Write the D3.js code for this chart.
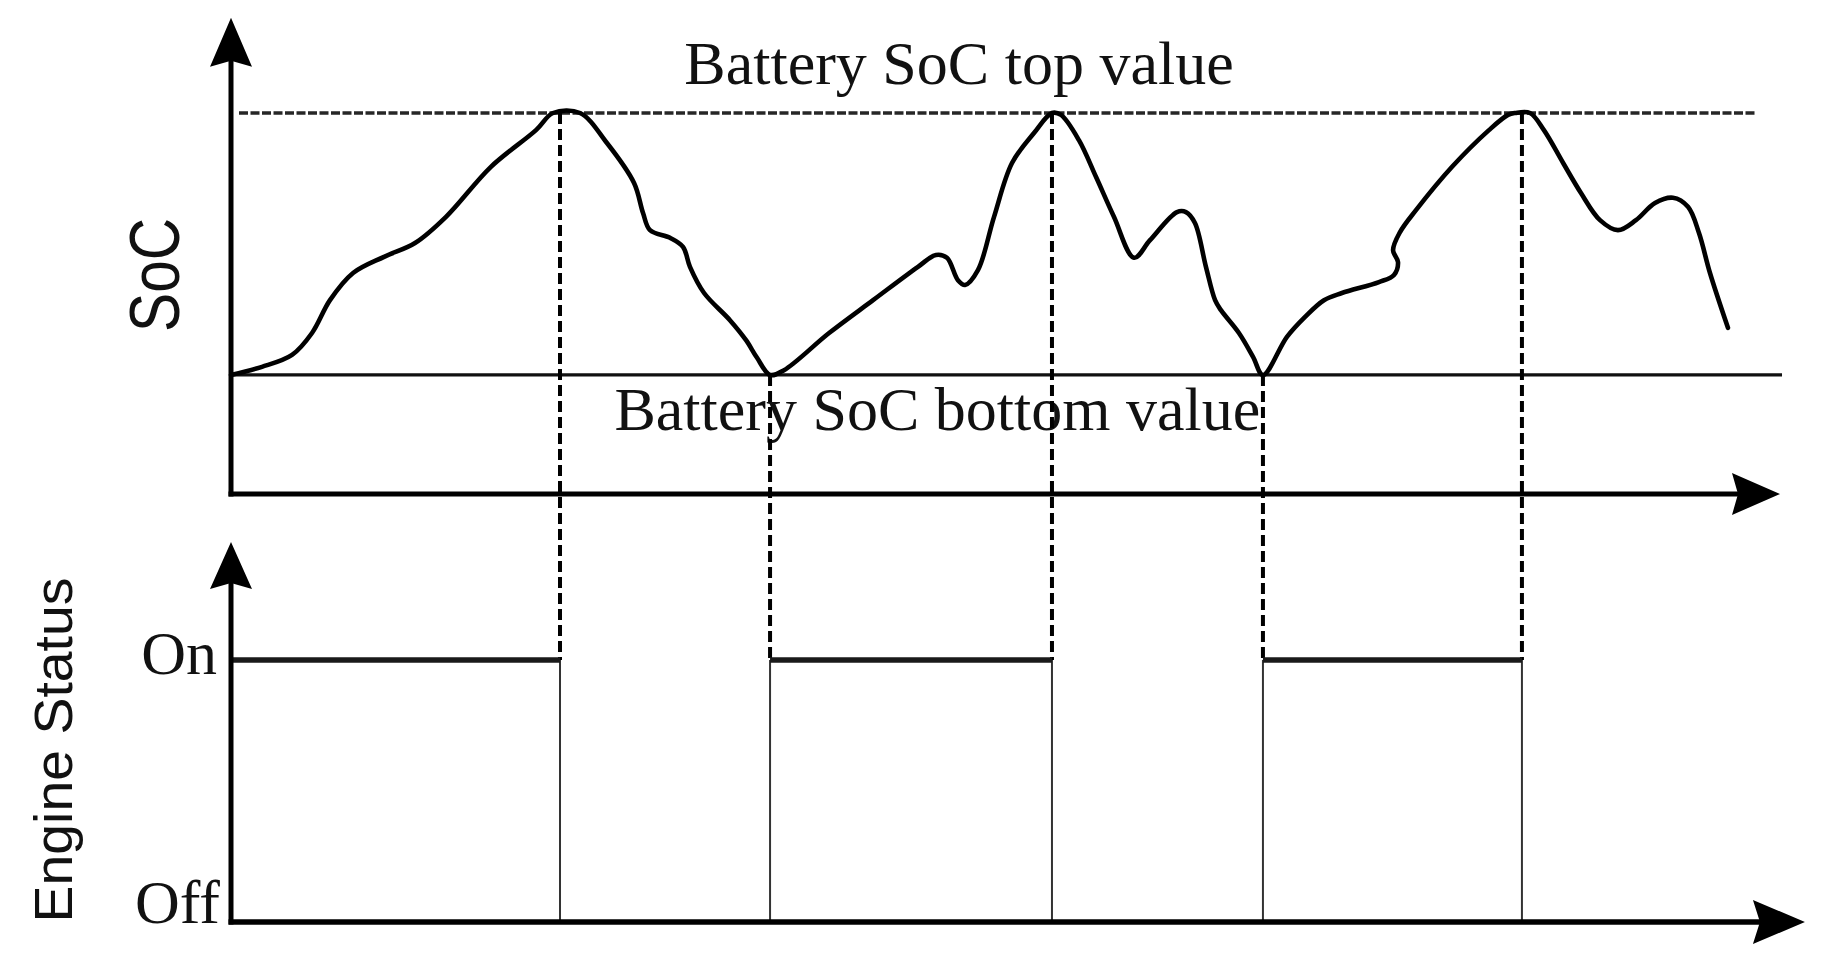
<!DOCTYPE html>
<html>
<head>
<meta charset="utf-8">
<script src="https://cdn.jsdelivr.net/npm/d3@7"></script>
<style>
  html, body { margin: 0; padding: 0; background: #fff; }
  svg { display: block; }
</style>
</head>
<body>
<svg id="chart" width="1827" height="968"></svg>
<script>
// ---------------- DATA ----------------
// SoC trace (time in arbitrary units, SoC in %)
const socTime = [0, 20.0, 39.4, 52.3, 63.9, 78.8, 98.8, 118.8, 138.8, 167.8, 196.9, 207.9, 225.3,
  242.7, 260.2, 266.0, 270.5, 283.4, 291.8, 296.3, 305.4, 322.1, 332.5, 339.6, 348.0,
  357.0, 386.1, 414.5, 443.5, 455.1, 462.2, 469.3, 473.9, 482.2, 492.6, 504.2, 518.4, 530.0,
  535.8, 547.4, 558.4, 570.0, 583.0, 593.3, 610.7, 616.5, 622.3, 629.4, 635.3, 639.1, 650.7, 659.8, 666.2,
  681.7, 693.4, 705.6, 717.2, 741.1, 750.8, 753.4, 750.2, 754.7, 765.0, 788.3, 812.1, 824.4, 829.0, 838.6,
  847.6, 860.0, 871.5, 883.8, 895.4, 907.0, 919.3, 930.9, 940.6, 947.7, 954.8, 966.4];
const socValue = [25.0, 26.7, 29.2, 33.8, 40.7, 46.4, 49.8, 52.7, 58.2, 68.7, 76.4, 80.0, 80.0,
  73.7, 65.3, 59.0, 55.4, 53.8, 51.9, 47.7, 42.2, 36.5, 32.3, 28.6, 25.0,
  26.0, 33.8, 40.7, 47.7, 50.2, 49.6, 44.9, 43.9, 47.0, 58.2, 69.5, 75.8, 80.0,
  79.6, 74.3, 66.6, 58.2, 49.6, 53.3, 59.2, 59.2, 56.9, 47.7, 40.7, 38.6, 33.8, 28.8, 25.0,
  33.0, 37.2, 40.7, 42.2, 44.5, 46.0, 48.7, 51.2, 55.0, 59.6, 68.7, 76.4, 79.6, 80.0, 80.0,
  76.4, 69.5, 63.2, 57.5, 55.4, 57.5, 61.1, 62.2, 60.3, 54.8, 46.4, 34.9];

const socTop = 80;      // Battery SoC top value
const socBottom = 25;   // Battery SoC bottom value

// Engine status change times and state from that time on (1 = On, 0 = Off)
const statusTimes  = [0, 212.4, 348.0, 530.0, 666.2, 833.4];
const statusValues = [1, 0, 1, 0, 1, 0];
// SoC level at each switching instant (top -> engine off, bottom -> engine on)
const switchSoc    = [80, 25, 80, 25, 80];

const statusLabels = ["Off", "On"];
const topLabel = "Battery SoC top value";
const bottomLabel = "Battery SoC bottom value";
const socAxisTitle = "SoC";
const statusAxisTitle = "Engine Status";

// ---------------- SCALES ----------------
const svg = d3.select("#chart");
const x = d3.scaleLinear().domain([0, 1000]).range([231, 1780]);
const ySoc = d3.scaleLinear().domain([0, 100]).range([494, 17.75]);
const yStat = d3.scaleLinear().domain([0, 1]).range([922, 660]);
const bottomAxisEnd = 1016.1;   // time where lower axis arrow ends
const statAxisTop = 1.45;       // status value where lower y-arrow ends

const serif = "'Liberation Serif','Times New Roman',Times,serif";
const sans = "'Liberation Sans',Arial,Helvetica,sans-serif";

// arrow helpers
function arrowUp(cx, tipY, len, halfW, notch) {
  return `M${cx},${tipY} L${cx + halfW},${tipY + len} L${cx},${tipY + len - notch} L${cx - halfW},${tipY + len} Z`;
}
function arrowRight(tipX, cy, len, halfW, notch) {
  return `M${tipX},${cy} L${tipX - len},${cy - halfW} L${tipX - len + notch},${cy} L${tipX - len},${cy + halfW} Z`;
}

// ---------------- TOP PANEL ----------------
const gTop = svg.append("g");

// dashed top value line
gTop.append("line")
  .attr("x1", x(0) + 8).attr("x2", x(984))
  .attr("y1", ySoc(socTop)).attr("y2", ySoc(socTop))
  .attr("stroke", "#262626").attr("stroke-width", 3.6)
  .attr("stroke-dasharray", "9 2.5");

// solid bottom value line
gTop.append("line")
  .attr("x1", x(0)).attr("x2", x(1001.3))
  .attr("y1", ySoc(socBottom)).attr("y2", ySoc(socBottom))
  .attr("stroke", "#111").attr("stroke-width", 3.2);

// vertical dashed lines from SoC limit to On level
const switches = statusTimes.slice(1).map((t, i) => ({ t, soc: switchSoc[i] }));
svg.append("g").selectAll("line.dash").data(switches).join("line")
  .attr("class", "dash")
  .attr("x1", d => x(d.t)).attr("x2", d => x(d.t))
  .attr("y1", d => ySoc(d.soc)).attr("y2", yStat(1))
  .attr("stroke", "#000").attr("stroke-width", 4)
  .attr("stroke-dasharray", "11 5");

// axes (top)
gTop.append("line")
  .attr("x1", x(0)).attr("x2", x(0))
  .attr("y1", ySoc(0) + 2.5).attr("y2", ySoc(100) + 40)
  .attr("stroke", "#000").attr("stroke-width", 5);
gTop.append("path").attr("d", arrowUp(x(0), ySoc(100), 49, 21, 6)).attr("fill", "#000");
gTop.append("line")
  .attr("x1", x(0) - 2.5).attr("x2", x(1000) - 40)
  .attr("y1", ySoc(0)).attr("y2", ySoc(0))
  .attr("stroke", "#000").attr("stroke-width", 5);
gTop.append("path").attr("d", arrowRight(x(1000), ySoc(0), 48, 21, 6)).attr("fill", "#000");

// SoC curve
const socData = socTime.map((t, i) => ({ t, v: socValue[i] }));
gTop.append("path")
  .datum(socData)
  .attr("d", d3.line().x(d => x(d.t)).y(d => ySoc(d.v)).curve(d3.curveCatmullRom.alpha(0.5)))
  .attr("fill", "none").attr("stroke", "#000").attr("stroke-width", 4.6)
  .attr("stroke-linejoin", "round").attr("stroke-linecap", "round");

// labels
gTop.append("text")
  .attr("x", x(470)).attr("y", ySoc(socTop) - 29)
  .attr("text-anchor", "middle")
  .attr("font-family", serif).attr("font-size", 62).attr("fill", "#111")
  .text(topLabel);
gTop.append("text")
  .attr("x", x(456)).attr("y", ySoc(socBottom) + 55)
  .attr("text-anchor", "middle")
  .attr("font-family", serif).attr("font-size", 62).attr("fill", "#111")
  .text(bottomLabel);
gTop.append("text")
  .attr("transform", `translate(179,${(ySoc(0) + ySoc(100)) / 2 + 19}) rotate(-90)`)
  .attr("text-anchor", "middle")
  .attr("font-family", sans).attr("font-size", 71).attr("fill", "#111")
  .attr("textLength", 114).attr("lengthAdjust", "spacingAndGlyphs")
  .text(socAxisTitle);

// ---------------- BOTTOM PANEL ----------------
const gBot = svg.append("g");

// thin solid verticals from On level to axis
gBot.selectAll("line.sw").data(switches).join("line")
  .attr("class", "sw")
  .attr("x1", d => x(d.t)).attr("x2", d => x(d.t))
  .attr("y1", yStat(1)).attr("y2", yStat(0))
  .attr("stroke", "#333").attr("stroke-width", 2);

// On segments
const segs = statusTimes.map((t, i) => ({
  t0: t, t1: i + 1 < statusTimes.length ? statusTimes[i + 1] : null, v: statusValues[i]
})).filter(d => d.v === 1 && d.t1 !== null);
gBot.selectAll("line.on").data(segs).join("line")
  .attr("class", "on")
  .attr("x1", d => x(d.t0)).attr("x2", d => x(d.t1))
  .attr("y1", d => yStat(d.v)).attr("y2", d => yStat(d.v))
  .attr("stroke", "#1a1a1a").attr("stroke-width", 5.5);

// axes (bottom)
gBot.append("line")
  .attr("x1", x(0)).attr("x2", x(0))
  .attr("y1", yStat(0) + 2.5).attr("y2", yStat(statAxisTop) + 40)
  .attr("stroke", "#000").attr("stroke-width", 5);
gBot.append("path").attr("d", arrowUp(x(0), yStat(statAxisTop), 47, 21, 6)).attr("fill", "#000");
gBot.append("line")
  .attr("x1", x(0) - 2.5).attr("x2", x(bottomAxisEnd) - 42)
  .attr("y1", yStat(0)).attr("y2", yStat(0))
  .attr("stroke", "#000").attr("stroke-width", 5.5);
gBot.append("path").attr("d", arrowRight(x(bottomAxisEnd), yStat(0), 52, 22, 7)).attr("fill", "#000");

// status tick labels
gBot.selectAll("text.tick").data([0, 1]).join("text")
  .attr("class", "tick")
  .attr("x", d => d === 1 ? x(0) - 14 : x(0) - 11)
  .attr("y", d => d === 1 ? yStat(d) + 14 : yStat(d) + 1)
  .attr("text-anchor", "end")
  .attr("font-family", serif).attr("font-size", 62).attr("fill", "#111")
  .text(d => statusLabels[d]);

gBot.append("text")
  .attr("transform", `translate(72,750) rotate(-90)`)
  .attr("text-anchor", "middle")
  .attr("font-family", sans).attr("font-size", 54).attr("fill", "#111")
  .attr("textLength", 345).attr("lengthAdjust", "spacingAndGlyphs")
  .text(statusAxisTitle);
</script>
</body>
</html>
